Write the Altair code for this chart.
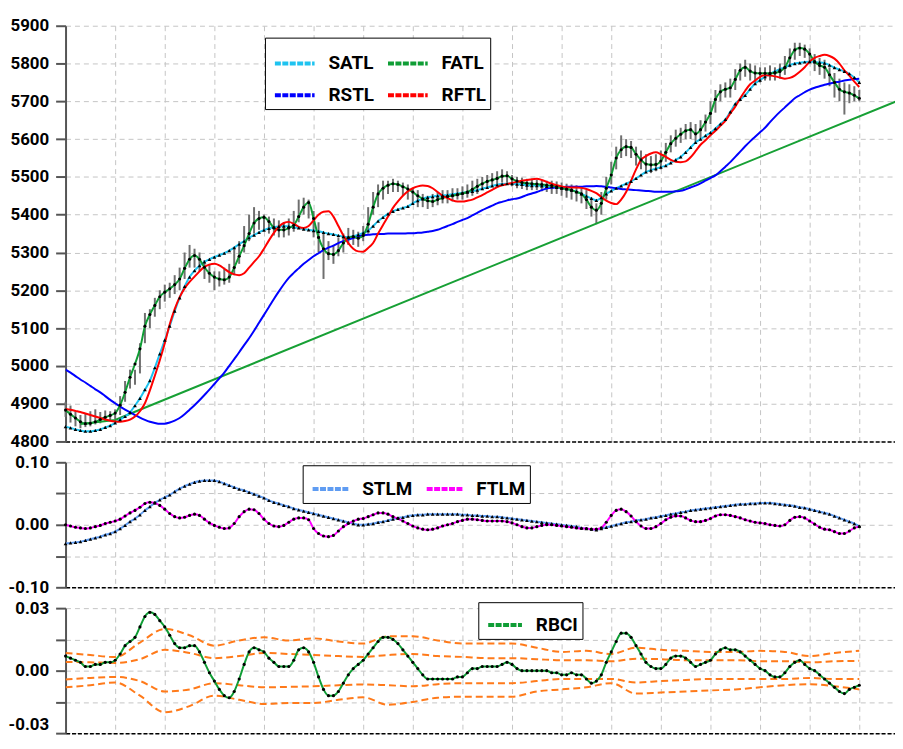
import altair as alt
import pandas as pd

FONT = "Roboto, Liberation Sans, sans-serif"
N = 161
idx = list(range(N))

# ---------------- top panel series ----------------
fatl = [4883, 4872, 4862, 4852, 4847, 4848, 4852, 4858, 4864, 4869,
        4875, 4896, 4930, 4970, 5005, 5045, 5105, 5136, 5160, 5183,
        5195, 5204, 5215, 5230, 5258, 5282, 5292, 5282, 5261, 5245,
        5235, 5230, 5228, 5235, 5260, 5290, 5318, 5350, 5378, 5390,
        5393, 5382, 5365, 5360, 5360, 5365, 5372, 5395, 5420, 5432,
        5390, 5340, 5310, 5297, 5295, 5305, 5325, 5339, 5342, 5338,
        5345, 5375, 5420, 5455, 5470, 5478, 5482, 5480, 5474, 5468,
        5460, 5450, 5442, 5437, 5435, 5440, 5444, 5448, 5450, 5453,
        5456, 5460, 5467, 5475, 5482, 5488, 5492, 5496, 5502, 5503,
        5495, 5489, 5485, 5483, 5482, 5481, 5480, 5478, 5477, 5474,
        5470, 5468, 5465, 5460, 5455, 5440, 5420, 5412, 5430, 5470,
        5505, 5550, 5572, 5580, 5578, 5560, 5545, 5534, 5532, 5533,
        5542, 5565, 5588, 5602, 5613, 5622, 5625, 5614, 5625, 5645,
        5668, 5705, 5725, 5732, 5736, 5758, 5782, 5790, 5780, 5775,
        5774, 5774, 5774, 5775, 5779, 5790, 5815, 5836, 5841, 5838,
        5825, 5805, 5795, 5790, 5770, 5750, 5732, 5725, 5722, 5716, 5708]

satl = [4839, 4836, 4832, 4829, 4827, 4827, 4829, 4832, 4837, 4842,
        4849, 4858, 4866, 4877, 4895, 4914, 4937, 4961, 4995, 5032,
        5068, 5105, 5145, 5180, 5210, 5235, 5252, 5265, 5275, 5282,
        5288, 5293, 5298, 5305, 5313, 5322, 5330, 5339, 5346, 5353,
        5359, 5364, 5367, 5369, 5370, 5369, 5367, 5365, 5362, 5360,
        5358, 5356, 5353, 5350, 5348, 5345, 5342, 5341, 5343, 5347,
        5352, 5358, 5370, 5383, 5393, 5402, 5409, 5414, 5418, 5422,
        5430, 5437, 5442, 5446, 5448, 5450, 5451, 5452, 5454, 5456,
        5458, 5460, 5462, 5465, 5469, 5472, 5476, 5479, 5481, 5482,
        5482, 5481, 5480, 5478, 5477, 5477, 5476, 5475, 5474, 5472,
        5470, 5468, 5465, 5461, 5455, 5449, 5443, 5438, 5445, 5455,
        5463, 5470, 5476, 5482, 5488, 5496, 5505, 5513, 5518, 5522,
        5526, 5530, 5537, 5545, 5553, 5565, 5578, 5591, 5600, 5609,
        5617, 5628, 5640, 5652, 5672, 5693, 5705, 5716, 5732, 5747,
        5756, 5765, 5773, 5779, 5785, 5790, 5796, 5800, 5802, 5804,
        5805, 5804, 5803, 5801, 5796, 5789, 5784, 5779, 5773, 5763, 5750]

rstl = [4990, 4982, 4973, 4964, 4956, 4947, 4938, 4930, 4920, 4910,
        4901, 4892, 4884, 4877, 4870, 4863, 4857, 4852, 4849, 4847,
        4847, 4850, 4855, 4862, 4872, 4884, 4896, 4909, 4923, 4937,
        4952, 4967, 4982, 5000, 5018, 5036, 5055, 5073, 5093, 5114,
        5135, 5156, 5177, 5197, 5216, 5233, 5246, 5258, 5270, 5280,
        5290, 5298, 5306, 5313, 5318, 5325, 5330, 5334, 5338, 5342,
        5345, 5347, 5348, 5349, 5349, 5350, 5350, 5350, 5350, 5351,
        5351, 5352, 5353, 5355, 5357, 5360, 5365, 5370, 5375, 5381,
        5386, 5391, 5398, 5405, 5412, 5418, 5424, 5430, 5434, 5438,
        5441, 5443, 5447, 5452, 5456, 5460, 5465, 5469, 5471, 5472,
        5473, 5474, 5474, 5474, 5474, 5475, 5475, 5476, 5475, 5474,
        5472, 5470, 5468, 5467, 5466, 5465, 5464, 5463, 5462, 5461,
        5461, 5461, 5461, 5462, 5463, 5467, 5472, 5477, 5483, 5490,
        5497, 5504, 5515, 5527, 5539, 5553, 5567, 5581, 5594, 5606,
        5618, 5630, 5645, 5659, 5672, 5684, 5696, 5708, 5716, 5724,
        5731, 5736, 5740, 5744, 5747, 5750, 5752, 5755, 5757, 5759, 5760]

rftl = [4886, 4884, 4881, 4878, 4874, 4870, 4866, 4862, 4858, 4855,
        4853, 4852, 4854, 4858, 4866, 4880, 4901, 4935, 4974, 5015,
        5060, 5110, 5150, 5182, 5205, 5222, 5236, 5250, 5262, 5268,
        5270, 5266, 5257, 5248, 5242, 5240, 5245, 5260, 5275, 5290,
        5310, 5332, 5352, 5368, 5378, 5381, 5376, 5368, 5365, 5370,
        5385, 5400, 5408, 5409, 5395, 5370, 5345, 5325, 5310, 5303,
        5302, 5312, 5325, 5350, 5373, 5395, 5418, 5435, 5450, 5462,
        5470, 5475, 5477, 5476, 5470, 5460, 5450, 5444, 5438, 5435,
        5435, 5437, 5440, 5446, 5452, 5459, 5466, 5473, 5478, 5481,
        5484, 5487, 5490, 5492, 5494, 5495, 5492, 5487, 5482, 5478,
        5475, 5473, 5472, 5472, 5471, 5468, 5463, 5457, 5447, 5437,
        5431, 5428, 5440, 5460, 5490, 5520, 5545, 5555, 5562, 5565,
        5560, 5553, 5545, 5540, 5539, 5541, 5552, 5568, 5585, 5597,
        5610, 5622, 5635, 5648, 5668, 5686, 5708, 5728, 5745, 5755,
        5765, 5769, 5768, 5766, 5763, 5760, 5762, 5768, 5778, 5790,
        5805, 5815, 5820, 5823, 5820, 5813, 5800, 5782, 5768, 5752, 5738]

bar_hi = [4905, 4895, 4880, 4870, 4875, 4880, 4885, 4878, 4882, 4880,
          4885, 4920, 4960, 4990, 4990, 5060, 5140, 5150, 5180, 5200,
          5215, 5220, 5240, 5260, 5300, 5320, 5310, 5300, 5280, 5270,
          5250, 5250, 5260, 5270, 5310, 5330, 5370, 5400, 5420, 5410,
          5400, 5395, 5390, 5385, 5380, 5390, 5410, 5440, 5445, 5440,
          5410, 5380, 5350, 5330, 5320, 5340, 5350, 5365, 5360, 5355,
          5370, 5420, 5460, 5480, 5490, 5490, 5495, 5490, 5485, 5480,
          5470, 5465, 5455, 5450, 5455, 5460, 5465, 5465, 5470, 5470,
          5475, 5480, 5490, 5495, 5500, 5505, 5510, 5515, 5520, 5515,
          5505, 5500, 5498, 5495, 5495, 5493, 5492, 5490, 5490, 5488,
          5485, 5482, 5480, 5478, 5475, 5465, 5445, 5430, 5460, 5500,
          5540, 5580, 5610, 5600, 5595, 5580, 5570, 5560, 5555, 5560,
          5570, 5590, 5610, 5625, 5630, 5640, 5645, 5640, 5650, 5665,
          5700, 5730, 5745, 5750, 5760, 5785, 5800, 5810, 5800, 5795,
          5790, 5790, 5795, 5790, 5800, 5820, 5840, 5855, 5855, 5850,
          5840, 5825, 5815, 5810, 5790, 5775, 5760, 5750, 5745, 5740, 5730]

bar_lo = [4865, 4850, 4840, 4835, 4838, 4840, 4845, 4848, 4852, 4855,
          4858, 4870, 4905, 4940, 4950, 4980, 5060, 5100, 5130, 5150,
          5170, 5180, 5190, 5200, 5230, 5260, 5260, 5250, 5230, 5220,
          5200, 5210, 5215, 5220, 5240, 5270, 5300, 5330, 5350, 5360,
          5360, 5350, 5345, 5340, 5340, 5345, 5355, 5380, 5400, 5390,
          5340, 5300, 5230, 5280, 5270, 5290, 5300, 5320, 5320, 5315,
          5330, 5350, 5400, 5420, 5440, 5455, 5460, 5460, 5450, 5440,
          5430, 5420, 5420, 5415, 5420, 5425, 5430, 5430, 5435, 5440,
          5440, 5445, 5450, 5455, 5465, 5470, 5475, 5480, 5485, 5485,
          5475, 5470, 5468, 5465, 5465, 5465, 5462, 5460, 5455, 5455,
          5450, 5445, 5440, 5435, 5430, 5415, 5395, 5375, 5400, 5440,
          5480, 5520, 5550, 5555, 5550, 5530, 5520, 5510, 5510, 5515,
          5520, 5540, 5565, 5580, 5590, 5600, 5600, 5590, 5600, 5620,
          5640, 5670, 5700, 5710, 5710, 5730, 5755, 5765, 5755, 5750,
          5750, 5755, 5755, 5755, 5760, 5770, 5790, 5810, 5820, 5815,
          5800, 5780, 5770, 5760, 5740, 5710, 5700, 5665, 5695, 5700, 5700]

trend_i = [3, 10, 13.5, 168]
trend_v = [4846, 4857, 4876, 5703]

# ---------------- middle panel series ----------------
stlm = [-0.030, -0.029, -0.028, -0.027, -0.025, -0.023, -0.021, -0.019, -0.016, -0.014,
        -0.011, -0.006, -0.001, 0.005, 0.010, 0.016, 0.023, 0.029, 0.035, 0.040,
        0.044, 0.048, 0.053, 0.058, 0.062, 0.065, 0.068, 0.070, 0.071, 0.071,
        0.071, 0.069, 0.066, 0.063, 0.060, 0.057, 0.055, 0.052, 0.049, 0.046,
        0.043, 0.039, 0.036, 0.034, 0.031, 0.029, 0.026, 0.024, 0.022, 0.020,
        0.018, 0.016, 0.014, 0.012, 0.010, 0.008, 0.006, 0.004, 0.002, 0.000,
        0.000, 0.001, 0.002, 0.004, 0.005, 0.007, 0.009, 0.011, 0.012, 0.014,
        0.015, 0.016, 0.016, 0.017, 0.017, 0.017, 0.017, 0.017, 0.017, 0.017,
        0.016, 0.016, 0.015, 0.015, 0.014, 0.014, 0.013, 0.013, 0.012, 0.011,
        0.010, 0.009, 0.008, 0.007, 0.006, 0.005, 0.004, 0.003, 0.002, 0.001,
        0.000, -0.001, -0.002, -0.003, -0.005, -0.006, -0.007, -0.008, -0.006, -0.004,
        -0.002, 0.000, 0.002, 0.004, 0.005, 0.007, 0.008, 0.009, 0.011, 0.012,
        0.014, 0.015, 0.017, 0.018, 0.020, 0.021, 0.023, 0.024, 0.025, 0.026,
        0.027, 0.028, 0.029, 0.030, 0.031, 0.032, 0.033, 0.033, 0.034, 0.034,
        0.035, 0.035, 0.035, 0.034, 0.033, 0.032, 0.031, 0.030, 0.028, 0.027,
        0.025, 0.023, 0.021, 0.019, 0.017, 0.014, 0.011, 0.008, 0.005, 0.002, -0.002]

ftlm = [0.000, -0.002, -0.004, -0.005, -0.006, -0.005, -0.003, -0.001, 0.002, 0.004,
        0.006, 0.009, 0.014, 0.019, 0.023, 0.028, 0.034, 0.036, 0.035, 0.031,
        0.025, 0.018, 0.013, 0.011, 0.012, 0.015, 0.017, 0.015, 0.009, 0.003,
        -0.001, -0.004, -0.006, -0.005, 0.002, 0.013, 0.021, 0.025, 0.024, 0.018,
        0.009, 0.002, -0.002, -0.003, -0.001, 0.004, 0.009, 0.011, 0.011, 0.008,
        -0.006, -0.014, -0.018, -0.019, -0.017, -0.010, -0.003, 0.002, 0.006, 0.009,
        0.010, 0.013, 0.016, 0.019, 0.019, 0.017, 0.013, 0.010, 0.006, 0.002,
        -0.002, -0.005, -0.007, -0.008, -0.007, -0.005, -0.002, 0.000, 0.002, 0.005,
        0.007, 0.009, 0.009, 0.008, 0.007, 0.006, 0.006, 0.006, 0.006, 0.005,
        0.003, 0.000, -0.003, -0.005, -0.005, -0.003, -0.001, 0.000, 0.000, -0.001,
        -0.002, -0.003, -0.004, -0.005, -0.006, -0.006, -0.007, -0.007, -0.005, 0.004,
        0.015, 0.023, 0.025, 0.021, 0.014, 0.005, -0.002, -0.006, -0.006, -0.003,
        0.002, 0.008, 0.012, 0.014, 0.014, 0.011, 0.007, 0.005, 0.005, 0.007,
        0.010, 0.014, 0.016, 0.016, 0.015, 0.013, 0.011, 0.008, 0.006, 0.004,
        0.003, 0.002, 0.000, -0.001, -0.002, 0.000, 0.007, 0.012, 0.013, 0.011,
        0.006, 0.001, -0.004, -0.007, -0.008, -0.011, -0.014, -0.014, -0.010, -0.005, -0.003]

# ---------------- bottom panel series ----------------
rbci = [0.007, 0.006, 0.005, 0.004, 0.002, 0.002, 0.003, 0.003, 0.004, 0.004,
        0.005, 0.008, 0.012, 0.014, 0.016, 0.021, 0.026, 0.028, 0.027, 0.024,
        0.021, 0.017, 0.013, 0.011, 0.011, 0.012, 0.012, 0.009, 0.004, -0.001,
        -0.005, -0.009, -0.012, -0.013, -0.010, -0.004, 0.003, 0.009, 0.011, 0.010,
        0.009, 0.006, 0.004, 0.002, 0.002, 0.002, 0.005, 0.010, 0.011, 0.009,
        0.004, -0.003, -0.009, -0.012, -0.012, -0.010, -0.006, -0.002, 0.001, 0.003,
        0.005, 0.008, 0.011, 0.014, 0.016, 0.016, 0.015, 0.013, 0.010, 0.007,
        0.004, 0.001, -0.002, -0.004, -0.004, -0.004, -0.004, -0.004, -0.004, -0.003,
        -0.003, -0.001, 0.001, 0.001, 0.002, 0.002, 0.002, 0.002, 0.003, 0.004,
        0.003, 0.001, 0.000, 0.000, 0.000, 0.000, 0.000, 0.000, -0.001, -0.001,
        -0.002, -0.002, -0.001, -0.002, -0.002, -0.004, -0.006, -0.005, -0.002, 0.004,
        0.009, 0.014, 0.018, 0.018, 0.016, 0.012, 0.008, 0.004, 0.002, 0.001,
        0.001, 0.003, 0.006, 0.007, 0.007, 0.006, 0.004, 0.002, 0.003, 0.004,
        0.005, 0.008, 0.010, 0.011, 0.010, 0.010, 0.009, 0.007, 0.005, 0.003,
        0.001, 0.000, -0.002, -0.003, -0.003, -0.001, 0.002, 0.004, 0.005, 0.003,
        0.001, 0.000, -0.002, -0.004, -0.006, -0.008, -0.010, -0.011, -0.009, -0.008, -0.007]

band_i = list(range(0, 161, 5))
band_uo = [0.0085, 0.0075, 0.0065, 0.0135, 0.0200, 0.0170, 0.0120, 0.0145, 0.0160, 0.0145,
           0.0155, 0.0140, 0.0130, 0.0165, 0.0165, 0.0145, 0.0130, 0.0130, 0.0130, 0.0110,
           0.0090, 0.0095, 0.0080, 0.0110, 0.0100, 0.0095, 0.0090, 0.0090, 0.0095, 0.0090,
           0.0070, 0.0085, 0.0095]
band_ui = [0.0042, 0.0040, 0.0037, 0.0055, 0.0100, 0.0085, 0.0060, 0.0070, 0.0085, 0.0080,
           0.0075, 0.0070, 0.0066, 0.0075, 0.0080, 0.0070, 0.0066, 0.0060, 0.0060, 0.0055,
           0.0050, 0.0050, 0.0045, 0.0057, 0.0055, 0.0050, 0.0050, 0.0050, 0.0045, 0.0045,
           0.0040, 0.0045, 0.0047]
band_li = [-0.0042, -0.0035, -0.0030, -0.0050, -0.0100, -0.0090, -0.0060, -0.0070, -0.0080, -0.0078,
           -0.0075, -0.0070, -0.0066, -0.0070, -0.0075, -0.0065, -0.0060, -0.0060, -0.0060, -0.0050,
           -0.0040, -0.0040, -0.0040, -0.0057, -0.0050, -0.0045, -0.0040, -0.0040, -0.0040, -0.0040,
           -0.0035, -0.0040, -0.0040]
band_lo = [-0.0080, -0.0070, -0.0057, -0.0120, -0.0200, -0.0170, -0.0120, -0.0140, -0.0160, -0.0155,
           -0.0155, -0.0140, -0.0128, -0.0164, -0.0150, -0.0130, -0.0125, -0.0125, -0.0125, -0.0100,
           -0.0090, -0.0080, -0.0060, -0.0110, -0.0105, -0.0100, -0.0095, -0.0090, -0.0080, -0.0070,
           -0.0065, -0.0075, -0.0090]

for arr in (fatl, satl, rstl, rftl, bar_hi, bar_lo, stlm, ftlm, rbci):
    assert len(arr) == N, len(arr)
for arr in (band_uo, band_ui, band_li, band_lo):
    assert len(arr) == len(band_i)

# ---------------- data frames ----------------
def long(names, series):
    frames = [pd.DataFrame({"i": idx, "v": s, "s": n}) for n, s in zip(names, series)]
    return pd.concat(frames, ignore_index=True)

# legend fills column by column: SATL/RSTL in col 1, FATL/RFTL in col 2
top_names = ["SATL", "RSTL", "FATL", "RFTL"]
top_colors = ["#1ec3f0", "#0000ff", "#0f9d35", "#ff0000"]
df_top = long(top_names, [satl, rstl, fatl, rftl])
df_bars = pd.DataFrame({"i": idx, "v": bar_lo, "hi": bar_hi})
df_trend = pd.DataFrame({"i": trend_i, "v": trend_v})
df_satl = pd.DataFrame({"i": idx, "v": satl})
df_fatl = pd.DataFrame({"i": idx, "v": fatl})

mid_names = ["STLM", "FTLM"]
mid_colors = ["#5f9cf2", "#ff00ff"]
df_mid = long(mid_names, [stlm, ftlm])
df_stlm = pd.DataFrame({"i": idx, "v": stlm})
df_ftlm = pd.DataFrame({"i": idx, "v": ftlm})

df_rbci = pd.DataFrame({"i": idx, "v": rbci, "s": "RBCI"})
df_band = pd.concat([pd.DataFrame({"i": band_i, "v": b, "b": name})
                     for name, b in zip(["uo", "ui", "li", "lo"],
                                        [band_uo, band_ui, band_li, band_lo])],
                    ignore_index=True)

# ---------------- scales / axes ----------------
W = 836
XMAX = W / 5.0
xs = alt.Scale(domain=[0, XMAX], nice=False, zero=False)
GRID = "#c4c4c4"

XAXIS = alt.Axis(title=None, labels=False, ticks=False, domain=True,
                 domainColor="black", domainDash=[4, 2], domainWidth=1.5,
                 grid=True, gridColor=GRID, gridDash=[5, 4], gridWidth=1,
                 values=list(range(0, 161, 10)))


def yaxis(values, expr, **kw):
    return alt.Axis(title=None, values=values, labelExpr=expr, labelFont=FONT,
                    labelFontSize=17, labelFontWeight="bold", labelColor="black",
                    labelPadding=7, tickSize=10, tickColor="#555555", tickWidth=2,
                    domainColor="#555555", domainWidth=2, grid=True, gridColor=GRID,
                    gridDash=[5, 4], gridWidth=1, minExtent=56, maxExtent=56, **kw)


def legend(x, y, cols, sym):
    return alt.Legend(title=None, orient="none", legendX=x, legendY=y, columns=cols,
                      symbolType="stroke", symbolSize=sym * sym, symbolStrokeWidth=4,
                      symbolDash=[6, 1.5], symbolOffset=4, labelFont=FONT,
                      labelFontSize=19, labelFontWeight="bold", labelColor="black",
                      labelOffset=12, strokeColor="black", fillColor="white",
                      padding=4, rowPadding=32 - sym, columnPadding=6)


X = alt.X("i:Q", scale=xs, axis=XAXIS)

H_TOP, H_MID, H_BOT, GAP = 419, 126, 126, 21

# ---------------- top panel ----------------
yt = alt.Scale(domain=[4800, 5900], nice=False, zero=False)
TOPAX = yaxis(list(range(4800, 5901, 100)), "format(datum.value, 'd')")
YT = alt.Y("v:Q", scale=yt, axis=TOPAX)

bars = alt.Chart(df_bars).mark_rule(color="#6f6f6f", strokeWidth=2).encode(
    x=X, y=YT, y2="hi:Q")
trend = alt.Chart(df_trend).mark_line(color="#17a035", strokeWidth=2, clip=True).encode(
    x=X, y=YT)
top_lines = alt.Chart(df_top).mark_line(strokeWidth=2, interpolate="monotone", clip=True).encode(
    x=X, y=YT,
    color=alt.Color("s:N", scale=alt.Scale(domain=top_names, range=top_colors),
                    legend=legend(201, 12, 2, 40)))
satl_pts = alt.Chart(df_satl).mark_point(shape="triangle-up", filled=True, color="black",
                                          size=14, opacity=1).encode(x=X, y=YT)
fatl_pts = alt.Chart(df_fatl).mark_circle(color="black", size=10, opacity=1).encode(x=X, y=YT)
top = alt.layer(bars, trend, top_lines, satl_pts, fatl_pts).properties(width=W, height=H_TOP)

# ---------------- middle panel ----------------
ym = alt.Scale(domain=[-0.1, 0.1], nice=False, zero=False)
mid_expr = ("abs(datum.value) > 0.07 || abs(datum.value) < 0.01 ? "
            "(datum.value < -0.001 ? '-' + format(-datum.value, '.2f') : format(abs(datum.value), '.2f')) : ''")
YM = alt.Y("v:Q", scale=ym, axis=yaxis([-0.1, -0.05, 0, 0.05, 0.1], mid_expr))
mid_lines = alt.Chart(df_mid).mark_line(strokeWidth=2, interpolate="monotone", clip=True).encode(
    x=X, y=YM,
    color=alt.Color("s:N", scale=alt.Scale(domain=mid_names, range=mid_colors),
                    legend=legend(239, 3, 2, 36)))
stlm_pts = alt.Chart(df_stlm).mark_point(shape="triangle-up", filled=True, color="black",
                                          size=14, opacity=1).encode(x=X, y=YM)
ftlm_pts = alt.Chart(df_ftlm).mark_circle(color="black", size=10, opacity=1).encode(x=X, y=YM)
mid = alt.layer(mid_lines, stlm_pts, ftlm_pts).properties(width=W, height=H_MID)

# ---------------- bottom panel ----------------
yb = alt.Scale(domain=[-0.03, 0.03], nice=False, zero=False)
bot_expr = ("abs(datum.value) > 0.02 || abs(datum.value) < 0.005 ? "
            "(datum.value < -0.001 ? '-' + format(-datum.value, '.2f') : format(abs(datum.value), '.2f')) : ''")
YB = alt.Y("v:Q", scale=yb, axis=yaxis(
    [-0.03, -0.015, 0, 0.015, 0.03], bot_expr,
    labelBaseline={"condition": {"test": "datum.value < -0.02", "value": "bottom"},
                   "value": "middle"}))
bands = alt.Chart(df_band).mark_line(color="#ff7a1a", strokeWidth=2, strokeDash=[7, 4],
                                     interpolate="monotone", clip=True).encode(
    x=X, y=YB, detail="b:N")
rbci_line = alt.Chart(df_rbci).mark_line(strokeWidth=2, interpolate="monotone", clip=True).encode(
    x=X, y=YB,
    color=alt.Color("s:N", scale=alt.Scale(domain=["RBCI"], range=["#0f9d35"]),
                    legend=legend(416, -6, 1, 34)))
rbci_pts = alt.Chart(df_rbci).mark_circle(color="black", size=10, opacity=1).encode(x=X, y=YB)
bot = alt.layer(bands, rbci_line, rbci_pts).properties(width=W, height=H_BOT)

chart = alt.vconcat(top, mid, bot, spacing=GAP, bounds="flush").resolve_scale(
    color="independent", x="independent", y="independent").resolve_legend(
    color="independent").properties(
    padding={"left": 0, "top": 6, "right": 0, "bottom": 0},
    background="white").configure_view(stroke=None)

chart.save("out.html", embed_options={"renderer": "svg", "actions": False})
